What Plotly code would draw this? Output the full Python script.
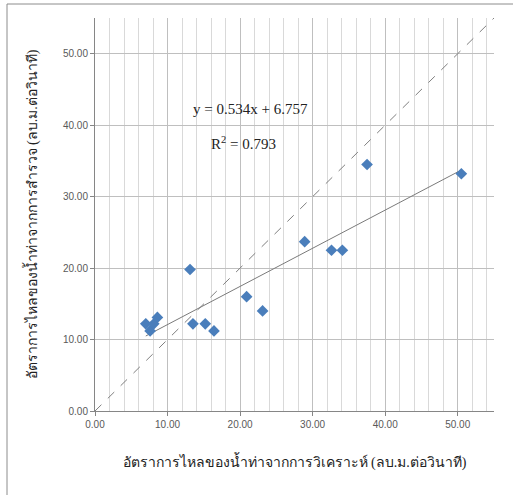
import plotly.graph_objects as go

# Data
x_analysis = [7.0, 7.6, 8.1, 8.6, 13.1, 13.5, 15.2, 16.4, 20.9, 23.1, 28.9, 32.6, 34.1, 37.5, 50.5]
y_survey = [12.2, 11.2, 12.2, 13.1, 19.8, 12.2, 12.2, 11.2, 16.0, 14.0, 23.7, 22.5, 22.5, 34.5, 33.2]
slope = 0.534
intercept = 6.757
r_squared = 0.793
axis_max = 55
tick_vals = [0, 10, 20, 30, 40, 50]
tick_text = ["0.00", "10.00", "20.00", "30.00", "40.00", "50.00"]
minor_vals = [2, 4, 6, 8, 12, 14, 16, 18, 22, 24, 26, 28, 32, 34, 36, 38, 42, 44, 46, 48, 52, 54]

x_title = "อัตราการไหลของน้ำท่าจากการวิเคราะห์ (ลบ.ม.ต่อวินาที)"
y_title = "อัตราการไหลของน้ำท่าจากการสำรวจ (ลบ.ม.ต่อวินาที)"

serif = "Liberation Serif, Times New Roman, serif"
sans = "Liberation Sans, Arial, sans-serif"

fig = go.Figure()

# 1:1 line
fig.add_trace(go.Scatter(
    x=[0, axis_max], y=[0, axis_max], mode="lines",
    line=dict(color="#7f7f7f", width=1, dash="dash"),
    hoverinfo="skip", showlegend=False))

# trend line
x_lo, x_hi = min(x_analysis), max(x_analysis)
fig.add_trace(go.Scatter(
    x=[x_lo, x_hi], y=[slope * x_lo + intercept, slope * x_hi + intercept],
    mode="lines", line=dict(color="#7a7a7a", width=1),
    hoverinfo="skip", showlegend=False))

# points
fig.add_trace(go.Scatter(
    x=x_analysis, y=y_survey, mode="markers",
    marker=dict(symbol="diamond", size=9, color="#4a7ebb"),
    showlegend=False))

fig.add_annotation(x=21.5, y=42.3, xref="x", yref="y",
                   text=f"y = {slope:.3f}x + {intercept:.3f}", showarrow=False,
                   font=dict(family=serif, size=15, color="#222"))
fig.add_annotation(x=20.5, y=37.5, xref="x", yref="y",
                   text=f"R<sup>2</sup> = {r_squared:.3f}", showarrow=False,
                   font=dict(family=serif, size=15, color="#222"))

fig.update_layout(
    width=513, height=495,
    margin=dict(l=95, r=19, t=18, b=84),
    paper_bgcolor="white", plot_bgcolor="white",
    xaxis=dict(
        range=[0, axis_max], tickmode="array", tickvals=tick_vals, ticktext=tick_text,
        showgrid=True, gridcolor="#bfbfbf", gridwidth=1,
        minor=dict(tickmode="array", tickvals=minor_vals, showgrid=True,
                   gridcolor="#d9d9d9", gridwidth=1, ticks=""),
        showline=True, linecolor="#868686", linewidth=1,
        ticks="outside", ticklen=4, tickcolor="#868686",
        tickfont=dict(family=sans, size=10, color="#595959"),
        zeroline=False,
        title=dict(text=x_title, font=dict(family=serif, size=14, color="#222"), standoff=28),
    ),
    yaxis=dict(
        range=[0, axis_max], tickvals=tick_vals, ticktext=tick_text,
        showgrid=True, gridcolor="#bfbfbf", gridwidth=1,
        showline=True, linecolor="#868686", linewidth=1,
        ticks="outside", ticklen=4, tickcolor="#868686",
        tickfont=dict(family=sans, size=10, color="#595959"),
        zeroline=False,
        title=dict(text=y_title, font=dict(family=serif, size=14, color="#222"), standoff=22),
    ),
)

# outer chart border
fig.add_shape(type="rect", xref="paper", yref="paper",
              x0=-88 / 399, y0=-1, x1=1.5, y1=1 + 14 / 393,
              line=dict(color="#8c8c8c", width=1), layer="below")

fig.write_html("out.html")
